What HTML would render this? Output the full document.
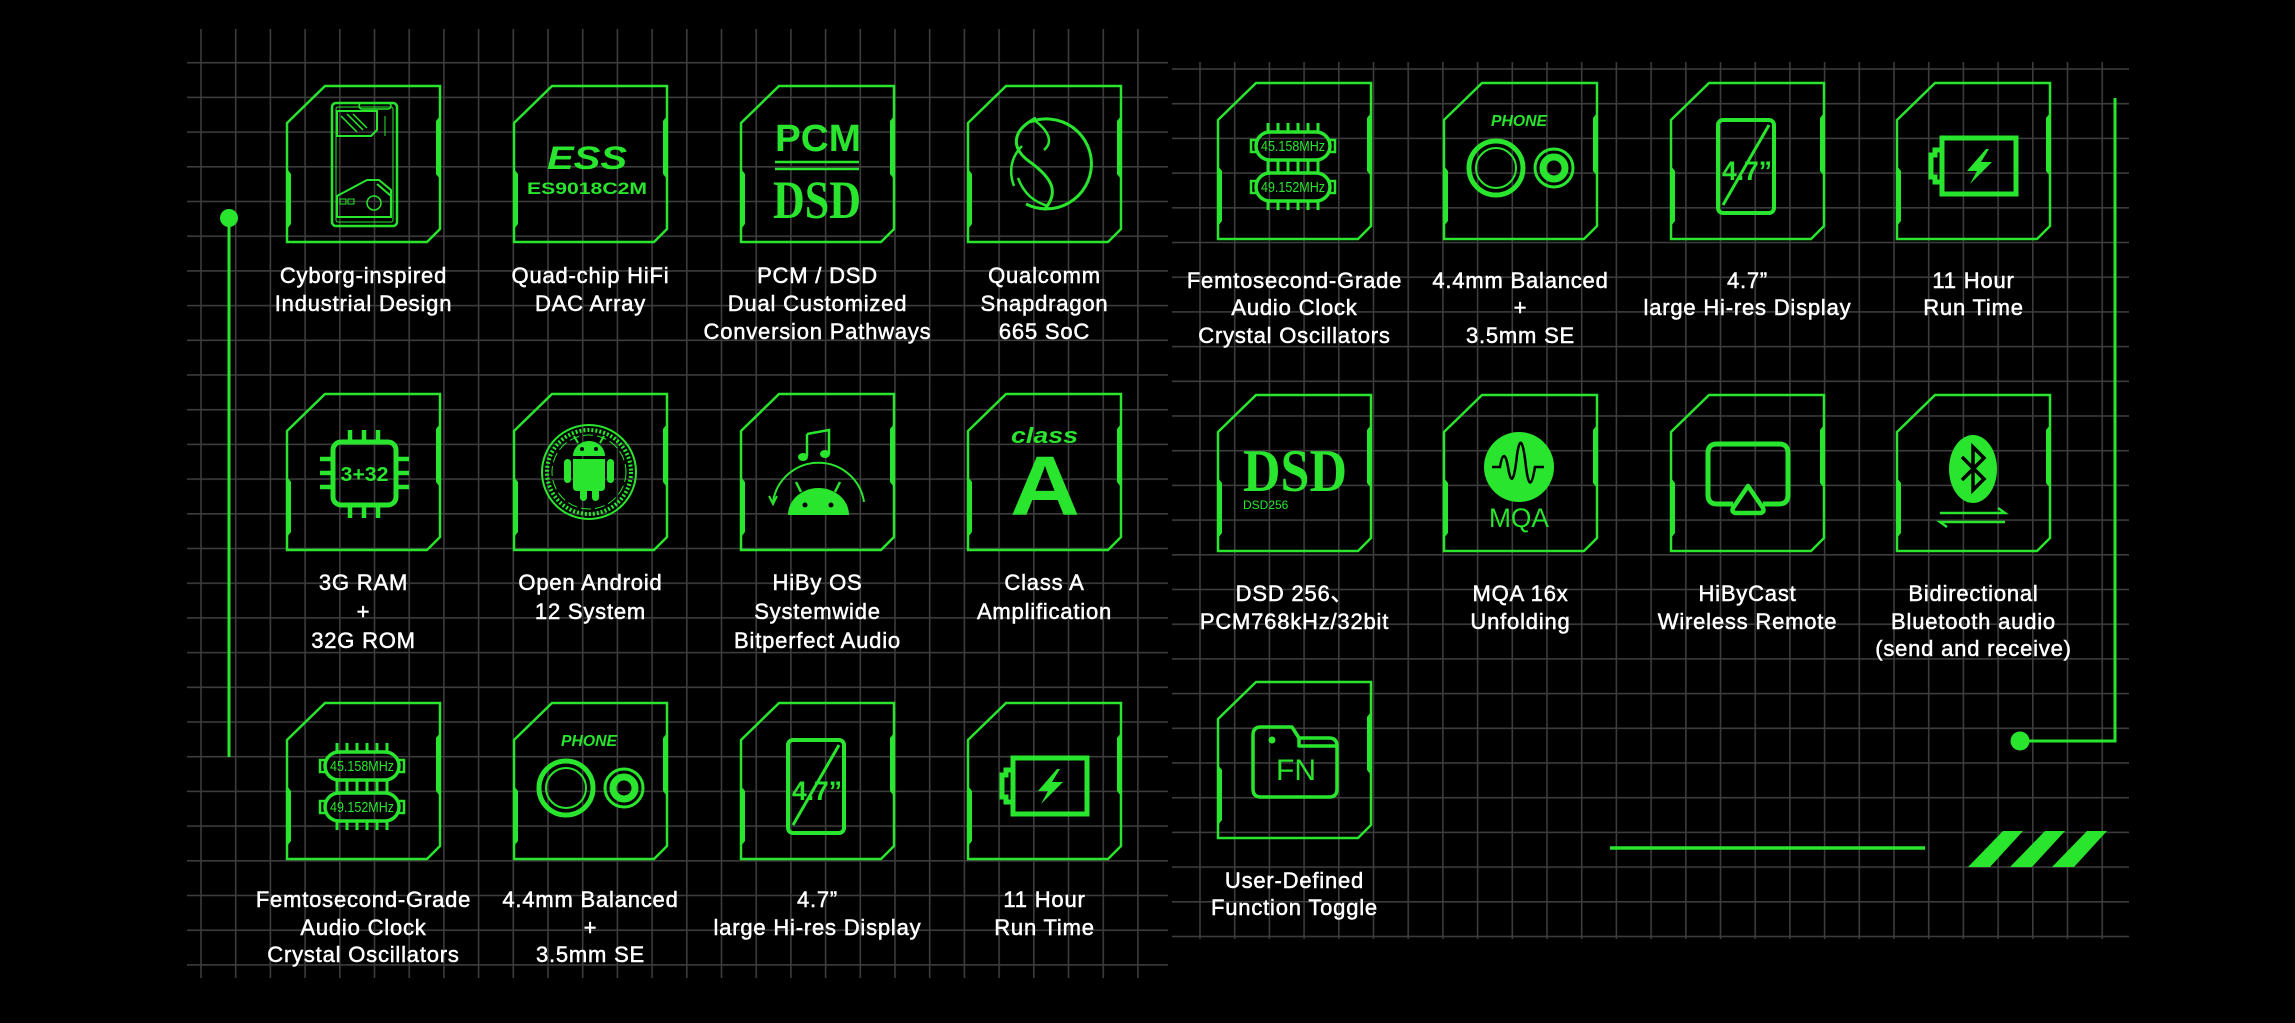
<!DOCTYPE html>
<html><head><meta charset="utf-8"><style>
html,body{margin:0;padding:0;background:#000;}
svg{display:block}
.lb{font-family:"Liberation Sans","Noto Sans CJK SC",sans-serif;font-size:22px;fill:#fff;letter-spacing:0.8px;text-anchor:middle;stroke:#fff;stroke-width:0.5}
.g{fill:none;stroke:#29e52e}
.gf{fill:#29e52e}
.t{font-family:"Liberation Sans",sans-serif;fill:#29e52e;text-anchor:middle}
</style></head><body>
<svg width="2295" height="1023" viewBox="0 0 2295 1023" xmlns="http://www.w3.org/2000/svg">
<defs>
<pattern id="gl" x="200.2" y="61.9" width="34.7" height="34.7" patternUnits="userSpaceOnUse">
<path d="M0.8,0 V34.7 M0,0.8 H34.7" stroke="#3c3c3c" stroke-width="1.6"/>
</pattern>
<pattern id="gr" x="1199.2" y="68.2" width="34.7" height="34.7" patternUnits="userSpaceOnUse">
<path d="M0.8,0 V34.7 M0,0.8 H34.7" stroke="#3c3c3c" stroke-width="1.6"/>
</pattern>
<g id="card">
<path d="M38,0 H153 V143 L140,156 H0 V37 Z" fill="none" stroke="#29e52e" stroke-width="2.5"/>
<polygon points="153,30 149,35 149,88 153,93" fill="#29e52e"/>
<polygon points="0,83 4,88 4,138 0,143" fill="#29e52e"/>
</g>
</defs>
<rect width="2295" height="1023" fill="#000"/>
<rect x="187" y="29" width="981" height="949" fill="url(#gl)"/>
<rect x="1172" y="62" width="957" height="877" fill="url(#gr)"/>

<!-- decorations -->
<circle cx="229" cy="218" r="9" class="gf"/>
<line x1="229" y1="218" x2="229" y2="757" stroke="#29e52e" stroke-width="3"/>
<path d="M2115,98 V741 H2020" class="g" stroke-width="3"/>
<circle cx="2020" cy="741" r="9.5" class="gf"/>
<line x1="1610" y1="848" x2="1925" y2="848" stroke="#29e52e" stroke-width="3.5"/>
<polygon points="1968,867 1990,867 2023,831 2003,831" class="gf"/>
<polygon points="2010,867 2032,867 2065,831 2045,831" class="gf"/>
<polygon points="2052,867 2074,867 2107,831 2087,831" class="gf"/>

<!-- ===== LEFT PANEL ROW 1 ===== -->
<g transform="translate(287,86)">
<use href="#card"/>
<rect x="45" y="17" width="65" height="123" rx="4" class="g" stroke-width="2.5"/>
<rect x="49" y="21" width="57" height="115" rx="2" class="g" stroke-width="1"/>
<rect x="72" y="17" width="32" height="6" rx="3" class="g" stroke-width="1.5"/>
<path d="M50,25 H90 V44 L84,50 H50 Z" class="g" stroke-width="2"/>
<path d="M54,30 L70,46 M60,28 L76,44 M66,28 L80,42" class="g" stroke-width="1.5"/>
<path d="M50,131 V110 L80,94 H92 L104,104 V131 Z" class="g" stroke-width="2"/>
<circle cx="87" cy="117" r="7" class="g" stroke-width="1.5"/>
<path d="M90,98 L104,110" class="g" stroke-width="2"/>
<rect x="53" y="113" width="6" height="5" class="g" stroke-width="1"/>
<rect x="61" y="113" width="6" height="5" class="g" stroke-width="1"/>
<path d="M98,30 V50" class="g" stroke-width="1"/>
</g>
<g transform="translate(514,86)">
<use href="#card"/>
<text x="33" y="83" class="t" style="text-anchor:start;font-weight:bold;font-style:italic;font-size:32px" textLength="80" lengthAdjust="spacingAndGlyphs">ESS</text>
<text x="13" y="108" class="t" style="text-anchor:start;font-weight:bold;font-size:17px" textLength="120" lengthAdjust="spacingAndGlyphs">ES9018C2M</text>
</g>
<g transform="translate(741,86)">
<use href="#card"/>
<text x="34" y="65" class="t" style="text-anchor:start;font-weight:bold;font-size:38px" textLength="86" lengthAdjust="spacingAndGlyphs">PCM</text>
<line x1="34" y1="76" x2="118" y2="76" stroke="#29e52e" stroke-width="2.5"/>
<line x1="34" y1="83" x2="118" y2="83" stroke="#29e52e" stroke-width="2.5"/>
<text x="32" y="132" class="t" style="text-anchor:start;font-family:'Liberation Serif',serif;font-weight:bold;font-size:54px" textLength="88" lengthAdjust="spacingAndGlyphs">DSD</text>
</g>
<g transform="translate(968,86)">
<use href="#card"/>
<path d="M62,36 A45,45 0 1 1 58,118" class="g" stroke-width="3"/>
<path d="M68,32 C44,44 42,62 62,76 C84,92 92,106 76,124" class="g" stroke-width="3"/>
<path d="M66,34 C80,44 86,56 76,64 M50,92 C56,108 66,116 80,120 M46,100 C40,84 44,70 54,60" class="g" stroke-width="2.5"/>
</g>
<text class="lb" x="363.5" y="283">Cyborg-inspired</text>
<text class="lb" x="363.5" y="311">Industrial Design</text>
<text class="lb" x="590.5" y="283">Quad-chip HiFi</text>
<text class="lb" x="590.5" y="311">DAC Array</text>
<text class="lb" x="817.5" y="283">PCM / DSD</text>
<text class="lb" x="817.5" y="311">Dual Customized</text>
<text class="lb" x="817.5" y="339">Conversion Pathways</text>
<text class="lb" x="1044.5" y="283">Qualcomm</text>
<text class="lb" x="1044.5" y="311">Snapdragon</text>
<text class="lb" x="1044.5" y="339">665 SoC</text>

<!-- ===== LEFT ROW 2 ===== -->
<g transform="translate(287,394)">
<use href="#card"/>
<rect x="46" y="48" width="63" height="63" rx="8" class="g" stroke-width="5"/>
<path d="M63,36 V48 M77,36 V48 M91,36 V48 M63,111 V124 M77,111 V124 M91,111 V124 M33,65 H46 M33,79 H46 M33,93 H46 M109,65 H122 M109,79 H122 M109,93 H122" class="g" stroke-width="4.5"/>
<text x="77.5" y="87" class="t" style="font-size:20px;font-weight:bold" textLength="48" lengthAdjust="spacingAndGlyphs">3+32</text>
</g>
<g transform="translate(514,394)">
<use href="#card"/>
<circle cx="75" cy="78" r="47" class="g" stroke-width="2"/>
<circle cx="75" cy="78" r="42" class="g" stroke-width="4" stroke-dasharray="2 2"/>
<circle cx="75" cy="78" r="37" class="g" stroke-width="1" stroke-dasharray="10 4"/>
<path d="M59,62 A16,15 0 0 1 91,62 Z" class="gf"/>
<path d="M64,49 L60,42 M86,49 L90,42" class="g" stroke-width="2"/>
<path d="M59,65 H91 V93 Q91,97 87,97 H63 Q59,97 59,93 Z" class="gf"/>
<rect x="50" y="65" width="7" height="24" rx="3.5" class="gf"/>
<rect x="93" y="65" width="7" height="24" rx="3.5" class="gf"/>
<rect x="66" y="93" width="7" height="14" rx="3.5" class="gf"/>
<rect x="78" y="93" width="7" height="14" rx="3.5" class="gf"/>
<circle cx="68" cy="55" r="2" fill="#000"/><circle cx="82" cy="55" r="2" fill="#000"/>
</g>
<g transform="translate(741,394)">
<use href="#card"/>
<path d="M66,40 L88,36 V60 M66,40 V62" class="g" stroke-width="2.5"/>
<ellipse cx="62" cy="63" rx="5" ry="4" class="gf"/><ellipse cx="84" cy="60" rx="5" ry="4" class="gf"/>
<path d="M32,108 A46,46 0 0 1 123,108" class="g" stroke-width="2"/>
<path d="M28,102 L32,110 L36,102" class="g" stroke-width="2"/>
<path d="M47,121 A30.5,27 0 0 1 108,121 Z" class="gf"/>
<path d="M60,98 L55,88 M94,98 L99,88" class="g" stroke-width="2.5"/>
<circle cx="64" cy="111" r="2.5" fill="#000"/><circle cx="90" cy="111" r="2.5" fill="#000"/>
</g>
<g transform="translate(968,394)">
<use href="#card"/>
<text x="43" y="49" class="t" style="text-anchor:start;font-size:22px;font-weight:bold;font-style:italic" textLength="67" lengthAdjust="spacingAndGlyphs">class</text>
<text x="77" y="121" class="t" style="font-size:84px;font-weight:bold" textLength="70" lengthAdjust="spacingAndGlyphs">A</text>
</g>
<text class="lb" x="363.5" y="590">3G RAM</text>
<text class="lb" x="363.5" y="619">+</text>
<text class="lb" x="363.5" y="648">32G ROM</text>
<text class="lb" x="590.5" y="590">Open Android</text>
<text class="lb" x="590.5" y="619">12 System</text>
<text class="lb" x="817.5" y="590">HiBy OS</text>
<text class="lb" x="817.5" y="619">Systemwide</text>
<text class="lb" x="817.5" y="648">Bitperfect Audio</text>
<text class="lb" x="1044.5" y="590">Class A</text>
<text class="lb" x="1044.5" y="619">Amplification</text>

<!-- ===== LEFT ROW 3 ===== -->
<g transform="translate(287,703)">
<use href="#card"/>
<rect x="38" y="49" width="74" height="28" rx="14" class="g" stroke-width="3.5"/>
<rect x="38" y="90" width="74" height="28" rx="14" class="g" stroke-width="3.5"/>
<path d="M50,40 V49 M60,40 V49 M70,40 V49 M80,40 V49 M90,40 V49 M100,40 V49 M50,77 V90 M60,77 V90 M70,77 V90 M80,77 V90 M90,77 V90 M100,77 V90 M50,118 V127 M60,118 V127 M70,118 V127 M80,118 V127 M90,118 V127 M100,118 V127" class="g" stroke-width="3"/>
<path d="M38,57 H33 V69 H38 M112,57 H117 V69 H112 M38,98 H33 V110 H38 M112,98 H117 V110 H112" class="g" stroke-width="2.5"/>
<text x="75" y="68" class="t" style="font-size:15px" textLength="64" lengthAdjust="spacingAndGlyphs">45.158MHz</text>
<text x="75" y="109" class="t" style="font-size:15px" textLength="64" lengthAdjust="spacingAndGlyphs">49.152MHz</text>
</g>
<g transform="translate(514,703)">
<use href="#card"/>
<text x="75" y="43" class="t" style="font-size:16px;font-weight:bold;font-style:italic" textLength="56" lengthAdjust="spacingAndGlyphs">PHONE</text>
<circle cx="52" cy="85" r="27" class="g" stroke-width="5"/>
<circle cx="52" cy="85" r="20" class="g" stroke-width="2"/>
<circle cx="110" cy="85" r="19" class="g" stroke-width="3"/>
<circle cx="110" cy="85" r="11" class="g" stroke-width="7"/>
</g>
<g transform="translate(741,703)">
<use href="#card"/>
<rect x="47" y="37" width="56" height="93" rx="5" class="g" stroke-width="4"/>
<line x1="52" y1="122" x2="98" y2="42" stroke="#29e52e" stroke-width="3"/>
<text x="76" y="97" class="t" style="font-size:27px;font-weight:bold" textLength="50" lengthAdjust="spacingAndGlyphs">4.7”</text>
</g>
<g transform="translate(968,703)">
<use href="#card"/>
<rect x="45" y="55" width="74" height="56" class="g" stroke-width="5"/>
<path d="M45,67 H38 V72 H34 V94 H38 V99 H45" class="g" stroke-width="5"/>
<polygon points="89,66 70,88 80,88 73,101 95,79 84,79 92,66" class="gf"/>
</g>
<text class="lb" x="363.5" y="907">Femtosecond-Grade</text>
<text class="lb" x="363.5" y="935">Audio Clock</text>
<text class="lb" x="363.5" y="962">Crystal Oscillators</text>
<text class="lb" x="590.5" y="907">4.4mm Balanced</text>
<text class="lb" x="590.5" y="935">+</text>
<text class="lb" x="590.5" y="962">3.5mm SE</text>
<text class="lb" x="817.5" y="907">4.7”</text>
<text class="lb" x="817.5" y="935">large Hi-res Display</text>
<text class="lb" x="1044.5" y="907">11 Hour</text>
<text class="lb" x="1044.5" y="935">Run Time</text>

<!-- ===== RIGHT ROW 1 ===== -->
<g transform="translate(1218,83)">
<use href="#card"/>
<rect x="38" y="49" width="74" height="28" rx="14" class="g" stroke-width="3.5"/>
<rect x="38" y="90" width="74" height="28" rx="14" class="g" stroke-width="3.5"/>
<path d="M50,40 V49 M60,40 V49 M70,40 V49 M80,40 V49 M90,40 V49 M100,40 V49 M50,77 V90 M60,77 V90 M70,77 V90 M80,77 V90 M90,77 V90 M100,77 V90 M50,118 V127 M60,118 V127 M70,118 V127 M80,118 V127 M90,118 V127 M100,118 V127" class="g" stroke-width="3"/>
<path d="M38,57 H33 V69 H38 M112,57 H117 V69 H112 M38,98 H33 V110 H38 M112,98 H117 V110 H112" class="g" stroke-width="2.5"/>
<text x="75" y="68" class="t" style="font-size:15px" textLength="64" lengthAdjust="spacingAndGlyphs">45.158MHz</text>
<text x="75" y="109" class="t" style="font-size:15px" textLength="64" lengthAdjust="spacingAndGlyphs">49.152MHz</text>
</g>
<g transform="translate(1444,83)">
<use href="#card"/>
<text x="75" y="43" class="t" style="font-size:16px;font-weight:bold;font-style:italic" textLength="56" lengthAdjust="spacingAndGlyphs">PHONE</text>
<circle cx="52" cy="85" r="27" class="g" stroke-width="5"/>
<circle cx="52" cy="85" r="20" class="g" stroke-width="2"/>
<circle cx="110" cy="85" r="19" class="g" stroke-width="3"/>
<circle cx="110" cy="85" r="11" class="g" stroke-width="7"/>
</g>
<g transform="translate(1671,83)">
<use href="#card"/>
<rect x="47" y="37" width="56" height="93" rx="5" class="g" stroke-width="4"/>
<line x1="52" y1="122" x2="98" y2="42" stroke="#29e52e" stroke-width="3"/>
<text x="76" y="97" class="t" style="font-size:27px;font-weight:bold" textLength="50" lengthAdjust="spacingAndGlyphs">4.7”</text>
</g>
<g transform="translate(1897,83)">
<use href="#card"/>
<rect x="45" y="55" width="74" height="56" class="g" stroke-width="5"/>
<path d="M45,67 H38 V72 H34 V94 H38 V99 H45" class="g" stroke-width="5"/>
<polygon points="89,66 70,88 80,88 73,101 95,79 84,79 92,66" class="gf"/>
</g>
<text class="lb" x="1294.5" y="288">Femtosecond-Grade</text>
<text class="lb" x="1294.5" y="315">Audio Clock</text>
<text class="lb" x="1294.5" y="343">Crystal Oscillators</text>
<text class="lb" x="1520.5" y="288">4.4mm Balanced</text>
<text class="lb" x="1520.5" y="315">+</text>
<text class="lb" x="1520.5" y="343">3.5mm SE</text>
<text class="lb" x="1747.5" y="288">4.7”</text>
<text class="lb" x="1747.5" y="315">large Hi-res Display</text>
<text class="lb" x="1973.5" y="288">11 Hour</text>
<text class="lb" x="1973.5" y="315">Run Time</text>

<!-- ===== RIGHT ROW 2 ===== -->
<g transform="translate(1218,395)">
<use href="#card"/>
<text x="25" y="96" class="t" style="text-anchor:start;font-family:'Liberation Serif',serif;font-weight:bold;font-size:60px" textLength="104" lengthAdjust="spacingAndGlyphs">DSD</text>
<text x="25" y="114" class="t" style="text-anchor:start;font-size:12px">DSD256</text>
</g>
<g transform="translate(1444,395)">
<use href="#card"/>
<circle cx="75" cy="72" r="35" class="gf"/>
<path d="M48,72 H56 C58,60 61,55 64,72 C67,90 70,88 73,60 C76,40 79,45 82,72 C85,95 88,90 91,72 H100" fill="none" stroke="#000" stroke-width="2.5"/>
<text x="75" y="132" class="t" style="font-size:27px" textLength="60" lengthAdjust="spacingAndGlyphs">MQA</text>
</g>
<g transform="translate(1671,395)">
<use href="#card"/>
<path d="M62,109 H46 Q37,109 37,100 V58 Q37,49 46,49 H108 Q117,49 117,58 V100 Q117,109 108,109 H92" class="g" stroke-width="5"/>
<path d="M77,91 L92,113 Q94,118 88,118 H66 Q60,118 62,113 Z" class="g" stroke-width="4.5" stroke-linejoin="round"/>
</g>
<g transform="translate(1897,395)">
<use href="#card"/>
<ellipse cx="76" cy="74" rx="24" ry="34" class="gf"/>
<path d="M65,62 L87,84 L76,95 V52 L87,63 L65,85" fill="none" stroke="#000" stroke-width="3.5"/>
<path d="M43,118 H108 L101,113 M108,127 H43 L50,132" class="g" stroke-width="2.5"/>
</g>
<text class="lb" x="1294.5" y="601">DSD 256、</text>
<text class="lb" x="1294.5" y="629">PCM768kHz/32bit</text>
<text class="lb" x="1520.5" y="601">MQA 16x</text>
<text class="lb" x="1520.5" y="629">Unfolding</text>
<text class="lb" x="1747.5" y="601">HiByCast</text>
<text class="lb" x="1747.5" y="629">Wireless Remote</text>
<text class="lb" x="1973.5" y="601">Bidirectional</text>
<text class="lb" x="1973.5" y="629">Bluetooth audio</text>
<text class="lb" x="1973.5" y="656">(send and receive)</text>

<!-- ===== RIGHT ROW 3 ===== -->
<g transform="translate(1218,682)">
<use href="#card"/>
<path d="M43,45 H74 L81,56 H111 Q119,56 119,64 V107 Q119,115 111,115 H43 Q35,115 35,107 V53 Q35,45 43,45 Z M81,56 V64 H119" class="g" stroke-width="3.5" stroke-linejoin="round"/>
<circle cx="54" cy="58" r="3.5" class="gf"/>
<text x="78" y="98" class="t" style="font-size:30px">FN</text>
</g>
<text class="lb" x="1294.5" y="888">User-Defined</text>
<text class="lb" x="1294.5" y="915">Function Toggle</text>
</svg>
</body></html>
